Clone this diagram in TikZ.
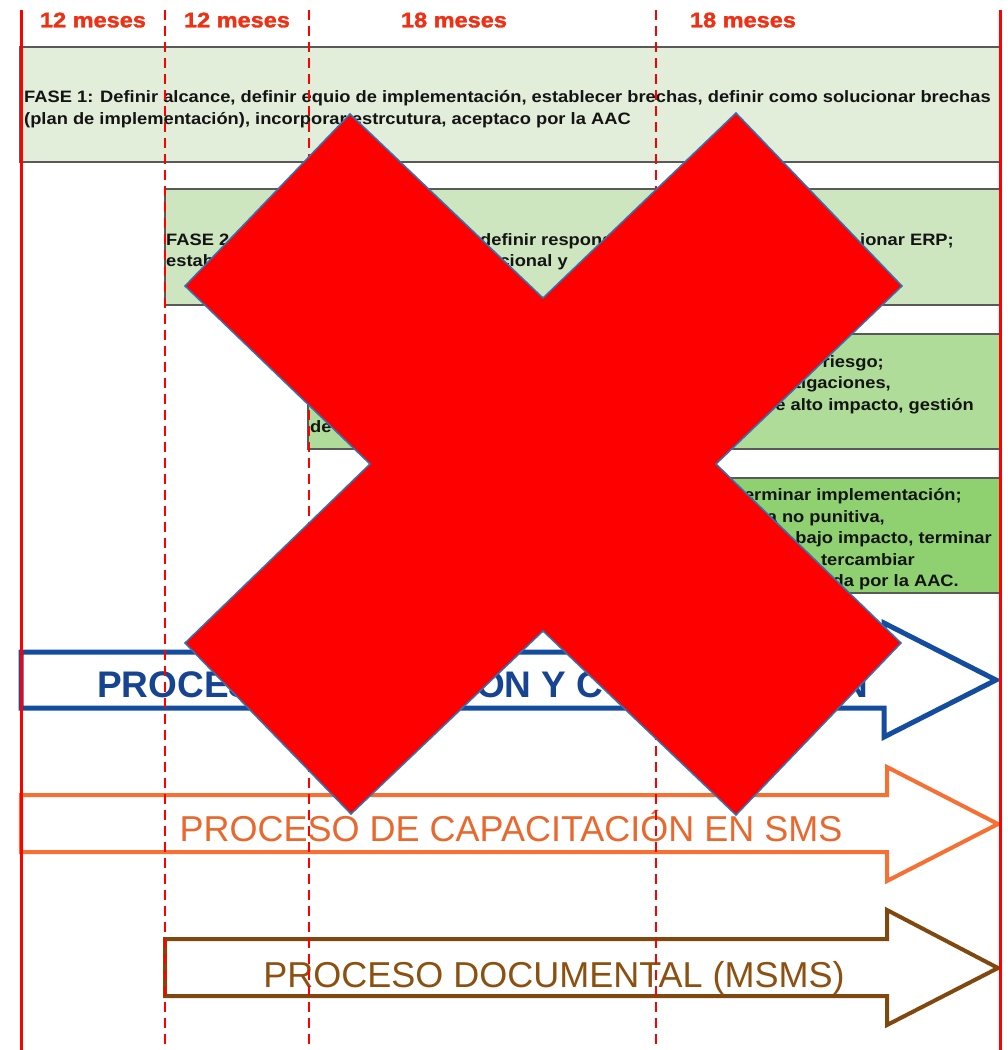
\documentclass[tikz,border=0pt]{standalone}
\usepackage{fontspec}
\setmainfont{Liberation Sans}
\newfontfamily\hdrfont{Liberation Sans Bold}[FakeBold=1.6]
\usepackage{graphicx}
\definecolor{fone}{RGB}{226,237,218}
\definecolor{ftwo}{RGB}{205,230,191}
\definecolor{fthree}{RGB}{175,220,152}
\definecolor{ffour}{RGB}{143,208,112}
\definecolor{xred}{RGB}{255,0,0}
\definecolor{xblue}{RGB}{46,117,182}
\definecolor{lred}{RGB}{255,0,0}
\definecolor{hdr}{RGB}{240,48,20}
\definecolor{barblue}{RGB}{20,76,160}
\definecolor{txtblue}{RGB}{22,68,145}
\definecolor{barorange}{RGB}{245,112,50}
\definecolor{txtorange}{RGB}{232,104,45}
\definecolor{barbrown}{RGB}{128,72,14}
\definecolor{txtbrown}{RGB}{140,80,16}
\newcommand{\fx}[1]{\scalebox{1.11}[1]{#1}}
\newcommand{\hx}[1]{\scalebox{1.12}[1]{#1}}
\begin{document}
\begin{tikzpicture}[x=1pt,y=-1pt,
  fasebox/.style={draw=black!65, line width=1.2pt},
  fasetxt/.style={inner sep=0pt, font=\fontsize{16.5}{20}\selectfont\bfseries, text=black!92},
  hdrtxt/.style={inner sep=0pt, anchor=base, font=\hdrfont\fontsize{21}{24}\selectfont, text=hdr},
  solidline/.style={draw=lred, line width=3pt},
  dashline/.style={draw=lred, line width=2pt, dash pattern=on 10pt off 6pt},
  bararrow/.style={fill=white, line width=#1, line join=miter},
  bluetxt/.style={inner sep=0pt, font=\fontsize{37}{40}\selectfont\bfseries, text=txtblue},
  bigtxt/.style={inner sep=0pt, anchor=base, font=\fontsize{36}{40}\selectfont},
  crossshape/.style={fill=xred, draw=xblue, line width=1.5pt, line join=miter}
]
\useasboundingbox[fill=white] (0,0) rectangle (1008,1050);

% phase boxes
\path[fasebox, fill=fone]   (20,47)  rectangle (1000,162);
\path[fasebox, fill=ftwo]   (165,189) rectangle (1000,305);
\path[fasebox, fill=fthree] (308,334) rectangle (1000,449);
\path[fasebox, fill=ffour]  (655,478) rectangle (1000,593);

% phase 1 text
\node[fasetxt, anchor=base west] (p1a) at (24,102) {\fx{FASE 1: Definir alcance, definir equio de implementación, establecer brechas, definir como solucionar brechas}};
\node[fasetxt, anchor=base west] (p1b) at (24,124) {\fx{(plan de implementación), incorporar estrcutura, aceptaco por la AAC}};

% phase 2 text (visible parts)
\node[fasetxt, anchor=base west] (p2a) at (166,245) {\fx{FASE 2}};
\node[fasetxt, anchor=base west] (p2b) at (480,245) {\fx{definir respons}};
\node[fasetxt, anchor=base east] (p2c) at (954,245) {\fx{ionar ERP;}};
\node[fasetxt, anchor=base west] (p2d) at (166,266) {\fx{estab}};
\node[fasetxt, anchor=base west] (p2e) at (482,266) {\fx{racional y}};

% phase 3 text (visible parts)
\node[fasetxt, anchor=base east] (p3a) at (884,367) {\fx{gestión de riesgo;}};
\node[fasetxt, anchor=base east] (p3b) at (891,388) {\fx{s e investigaciones,}};
\node[fasetxt, anchor=base east] (p3c) at (974,410) {\fx{e alto impacto, gestión}};
\node[fasetxt, anchor=base west] (p3d) at (310,432) {\fx{de}};

% phase 4 text (visible parts)
\node[fasetxt, anchor=base east] (p4a) at (962,500) {\fx{terminar implementación;}};
\node[fasetxt, anchor=base east] (p4b) at (885,522) {\fx{ca no punitiva,}};
\node[fasetxt, anchor=base east] (p4c) at (992,543) {\fx{bajo impacto, terminar}};
\node[fasetxt, anchor=base east] (p4d) at (915,565) {\fx{tercambiar}};
\node[fasetxt, anchor=base east] (p4e) at (959,586) {\fx{da por la AAC.}};

% process arrows
\draw[bararrow=5pt, draw=barblue] (21,652) -- (884,652) -- (884,623) -- (996,680) -- (884,737) -- (884,708) -- (21,708) -- cycle;
\draw[bararrow=4pt, draw=barorange] (21,795) -- (887,795) -- (887,767) -- (998,824) -- (887,881) -- (887,852) -- (21,852) -- cycle;
\draw[bararrow=4pt, draw=barbrown] (165,939) -- (887,939) -- (887,910) -- (998,968) -- (887,1025) -- (887,996) -- (165,996) -- cycle;

\node[bluetxt, anchor=base west] (a1a) at (97,697) {PROCES};
\node[bluetxt, anchor=base west] (a1b) at (476,697) {ON Y C};
\node[bluetxt, anchor=base east] (a1c) at (868,697) {N};
\node[bigtxt, text=txtorange] (a2) at (511,841) {PROCESO DE CAPACITACIÓN EN SMS};
\node[bigtxt, text=txtbrown] (a3) at (554,987) {PROCESO DOCUMENTAL (MSMS)};

% time lines
\coordinate (s0t) at (21,10);   \coordinate (s0b) at (21,1050);
\coordinate (d1t) at (165,10);  \coordinate (d1b) at (165,1050);
\coordinate (d2t) at (309,10);  \coordinate (d2b) at (309,1050);
\coordinate (d3t) at (656,10);  \coordinate (d3b) at (656,1050);
\coordinate (s4t) at (1000,10); \coordinate (s4b) at (1000,1050);
\draw[solidline] (s0t) -- (s0b);
\draw[dashline] (d1t) -- (d1b);
\draw[dashline] (d2t) -- (d2b);
\draw[dashline] (d3t) -- (d3b);
\draw[solidline] (s4t) -- (s4b);

% headers
\node[hdrtxt] (h1) at (93,27.3)  {\hx{12 meses}};
\node[hdrtxt] (h2) at (237,27.3) {\hx{12 meses}};
\node[hdrtxt] (h3) at (454,27.3) {\hx{18 meses}};
\node[hdrtxt] (h4) at (743,27.3) {\hx{18 meses}};

% big cross
\path[crossshape] (350,114) -- (543,298) -- (736,113) -- (902,286) -- (716,464) -- (901,643) -- (736,815) -- (543,631) -- (351,814) -- (185,643) -- (370,464) -- (185,286) -- cycle;
\end{tikzpicture}
\end{document}
